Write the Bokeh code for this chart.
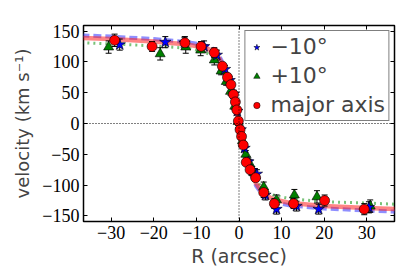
from bokeh.plotting import figure
from bokeh.models import (Range1d, FixedTicker, LinearAxis, Legend, LegendItem, Label, Span)
from bokeh.embed import file_html
from bokeh.resources import INLINE

# ---- data ----
maj_R = [-29.2, -20.4, -12.7, -8.9, -5.8, -3.9, -2.7, -1.9, -1.3, -0.85, -0.5, -0.15, 0.25, 0.6, 1.0, 1.7, 2.6, 3.9, 5.8, 8.3, 12.8, 20.1, 29.4]
maj_v = [135, 125, 131, 125, 115, 93, 75, 63, 47, 35, 22, 4, -10, -21, -35, -63, -75, -88, -112, -130, -130, -125, -139]
maj_e = [10, 8, 10, 8, 8, 5, 5, 5, 5, 5, 5, 5, 5, 5, 5, 5, 5, 6, 8, 8, 8, 9, 9]

m10_R = [-28.0, -17.3, -12.8, -8.2, -5.2, -3.3, -2.2, -1.2, -0.4, 0.4, 1.3, 2.2, 3.1, 4.2, 6.2, 8.8, 13.5, 18.7, 30.5]
m10_v = [128, 132, 131, 125, 111, 88, 70, 48, 20, -10, -40, -62, -76, -82, -116, -139, -134, -139, -136]
m10_e = [9, 9, 9, 9, 8, 6, 6, 6, 6, 6, 6, 6, 6, 7, 8, 8, 8, 8, 9]

p10_R = [-30.6, -18.5, -12.5, -9.0, -5.8, -4.2, -3.0, -2.0, -1.0, -0.2, 0.8, 1.6, 2.5, 3.5, 5.8, 8.8, 13.0, 18.3, 30.8]
p10_v = [124, 113, 124, 119, 103, 85, 68, 52, 28, 3, -28, -50, -65, -80, -103, -124, -116, -119, -134]
p10_e = [10, 10, 10, 9, 8, 6, 6, 6, 6, 6, 6, 6, 6, 7, 8, 8, 9, 10, 10]

# model curves
mod_R = [-37, -30, -20, -12, -8, -6, -5, -4, -3, -2, -1, 0, 1, 2, 3, 4, 5, 6, 8, 12, 20, 30, 37]
mod_red = [139, 137, 133, 128, 123, 117, 110, 97, 82, 62, 35, 0, -35, -62, -82, -97, -107, -115, -123, -129, -134, -137, -139]
mod_blue = [143, 141, 137, 132, 127, 121, 114, 101, 85, 64, 36, 0, -36, -64, -85, -101, -111, -119, -127, -133, -138, -141, -143]
mod_green = [131, 129, 126, 122, 116, 108, 101, 90, 77, 58, 32, 0, -32, -58, -77, -90, -101, -108, -116, -122, -127, -129, -131]

x_ticks = [-30, -20, -10, 0, 10, 20, 30]
y_ticks = [-150, -100, -50, 0, 50, 100, 150]

SERIF = "Liberation Serif"
SANS = "DejaVu Sans"

p = figure(width=415, height=277, output_backend="svg", toolbar_location=None,
           x_range=Range1d(-36.5, 36.5), y_range=Range1d(-159, 159),
           min_border_left=83, min_border_right=21, min_border_top=25, min_border_bottom=56)
p.xgrid.visible = False
p.ygrid.visible = False
p.outline_line_color = "black"
p.outline_line_width = 1.5
p.background_fill_color = "white"
p.border_fill_color = "white"

def style_axis(ax, ticks, show_labels):
    ax.ticker = FixedTicker(ticks=ticks)
    ax.major_tick_in = 4
    ax.major_tick_out = 0
    ax.minor_tick_line_color = None
    ax.axis_line_color = None
    ax.major_tick_line_color = "black"
    if show_labels:
        ax.major_label_overrides = {t: (("\u2212" + str(abs(t))) if t < 0 else str(t)) for t in ticks}
        ax.major_label_text_font = SERIF
        ax.major_label_text_font_size = "18px"
        ax.major_label_text_color = "black"
        ax.major_label_standoff = 4
    else:
        ax.major_label_overrides = {t: "" for t in ticks}
        ax.major_label_standoff = 0

style_axis(p.xaxis[0], x_ticks, True)
style_axis(p.yaxis[0], y_ticks, True)
p.xaxis[0].axis_label = "R (arcsec)"
p.xaxis[0].axis_label_text_font = SANS
p.xaxis[0].axis_label_text_font_size = "19px"
p.xaxis[0].axis_label_text_font_style = "normal"
p.xaxis[0].axis_label_standoff = 3
p.yaxis[0].axis_label = "velocity (km s\u207b\u00b9)"
p.yaxis[0].axis_label_text_font = SANS
p.yaxis[0].axis_label_text_font_size = "18px"
p.yaxis[0].axis_label_text_font_style = "normal"
p.yaxis[0].axis_label_standoff = 6

top_ax = LinearAxis()
style_axis(top_ax, x_ticks, False)
p.add_layout(top_ax, "above")
right_ax = LinearAxis()
style_axis(right_ax, y_ticks, False)
p.add_layout(right_ax, "right")

# reference dotted lines
p.add_layout(Span(location=0, dimension="height", line_color="black", line_dash="1 2", line_width=1))
p.add_layout(Span(location=0, dimension="width", line_color="black", line_dash="1 2", line_width=1))

# model curves
p.line(mod_R, mod_green, line_color="#3fa83f", line_alpha=0.7, line_width=3, line_dash="2 4")
p.line(mod_R, mod_blue, line_color="#4444ff", line_alpha=0.6, line_width=4, line_dash="8 4")
p.line(mod_R, mod_red, line_color="#ff2020", line_alpha=0.55, line_width=4.5)

def errbars(R, v, e):
    lo = [a - b for a, b in zip(v, e)]
    hi = [a + b for a, b in zip(v, e)]
    p.segment(R, lo, R, hi, line_color="black", line_width=1)
    p.scatter(R, lo, marker="dash", size=6, line_color="black", line_width=1)
    p.scatter(R, hi, marker="dash", size=6, line_color="black", line_width=1)

errbars(p10_R, p10_v, p10_e)
errbars(m10_R, m10_v, m10_e)
errbars(maj_R, maj_v, maj_e)

r_p10 = p.scatter(p10_R, p10_v, marker="triangle", size=10, fill_color="#008000", line_color="black", line_width=0.6)
r_m10 = p.scatter(m10_R, m10_v, marker="star", size=12, fill_color="#0000ff", line_color="black", line_width=0.6)
r_maj = p.scatter(maj_R, maj_v, marker="circle", size=10, fill_color="#ff0000", line_color="black", line_width=0.6)

# legend glyph renderers (drawn off-range, used only for legend swatches)
lg_m10 = p.scatter([1000], [0], marker="star", size=10, fill_color="#0000ff", line_color="black", line_width=0.5)
lg_p10 = p.scatter([1000], [0], marker="triangle", size=8, fill_color="#008000", line_color="black", line_width=0.5)
lg_maj = p.scatter([1000], [0], marker="circle", size=9, fill_color="#ff0000", line_color="black", line_width=0.5)

legend = Legend(items=[LegendItem(label="\u221210\u00b0", renderers=[lg_m10]),
                       LegendItem(label="+10\u00b0", renderers=[lg_p10]),
                       LegendItem(label="major axis", renderers=[lg_maj])],
                location="top_right")
legend.label_text_font = SANS
legend.label_text_font_size = "22px"
legend.label_height = 24
legend.border_line_color = "black"
legend.border_line_width = 1
legend.background_fill_alpha = 1.0
legend.margin = 5
legend.padding = 3
legend.spacing = 4
legend.glyph_width = 16
legend.glyph_height = 24
legend.label_standoff = 6
p.add_layout(legend)

# title
p.add_layout(Label(x=0, y=159, y_offset=1, text="SDSSJ020526+13", text_align="center",
                   text_baseline="bottom", text_font=SANS, text_font_size="18px", text_color="black"))

open("out.html", "w").write(file_html(p, INLINE))
